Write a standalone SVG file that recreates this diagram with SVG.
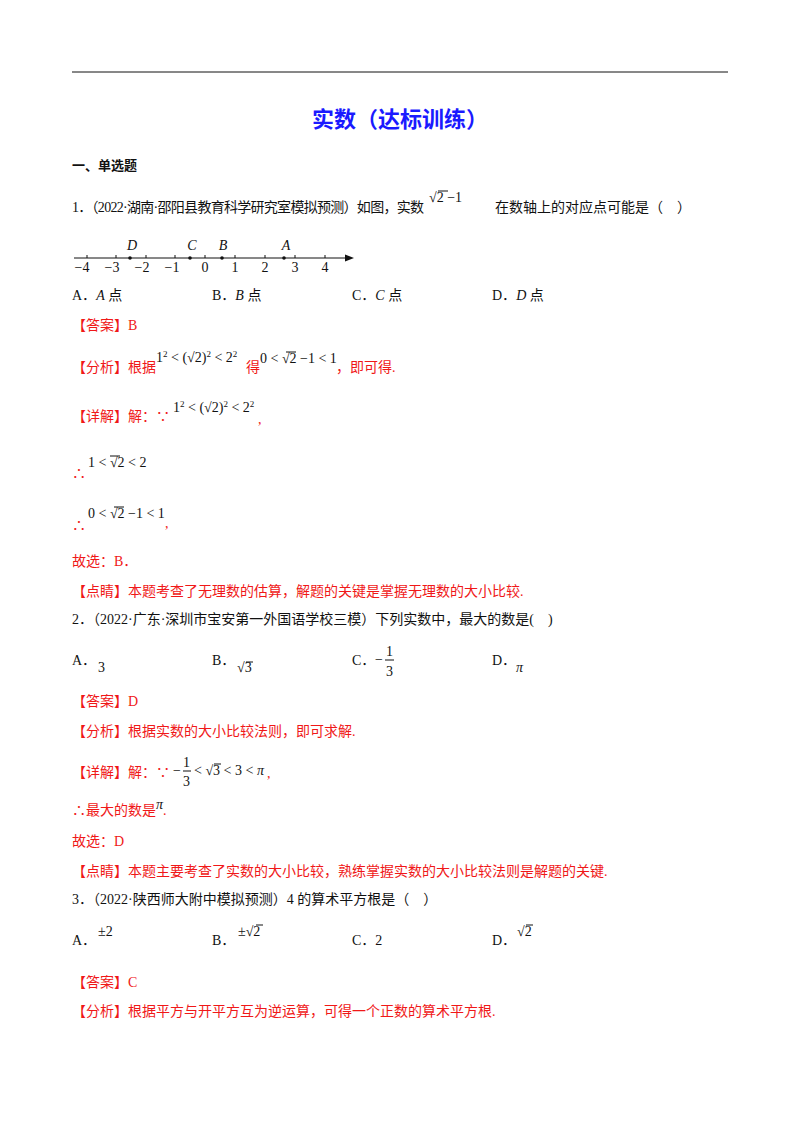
<svg xmlns="http://www.w3.org/2000/svg" width="800" height="1132" viewBox="0 0 800 1132">
<style>
text{font-family:"Liberation Serif","Noto Sans CJK SC",serif;font-size:14px;fill:#111}
.r{fill:#f01818}
.m{font-family:"Liberation Serif",serif;font-size:14px}
.i{font-style:italic}
.t{font-family:"Noto Sans CJK SC",sans-serif;font-size:22px;font-weight:bold;fill:#1a1aff}
.h{font-weight:bold;font-size:13px}
.s{font-size:9px}
line{stroke:#111;stroke-width:1}
</style>
<rect width="800" height="1132" fill="#fff"/>
<line x1="72" y1="72" x2="728" y2="72" stroke-width="1.5"/>
<text class="t" x="400" y="127" text-anchor="middle">实数（达标训练）</text>
<text class="h" x="72" y="170">一、单选题</text>

<text x="72" y="212" textLength="352" lengthAdjust="spacing">1．（2022·湖南·邵阳县教育科学研究室模拟预测）如图，实数</text>
<text class="m" x="429" y="202">√2 −1</text><line x1="438" y1="191" x2="448" y2="191"/>
<text x="495" y="212">在数轴上的对应点可能是（　）</text>

<g id="axis">
<line x1="74" y1="258" x2="348" y2="258"/>
<polygon points="354,258 345,254.5 345,261.5" fill="#111"/>
<g stroke="#111">
<line x1="87" y1="255" x2="87" y2="258"/><line x1="116" y1="255" x2="116" y2="258"/><line x1="146" y1="255" x2="146" y2="258"/><line x1="175" y1="255" x2="175" y2="258"/><line x1="205" y1="255" x2="205" y2="258"/><line x1="235" y1="255" x2="235" y2="258"/><line x1="265" y1="255" x2="265" y2="258"/><line x1="295" y1="255" x2="295" y2="258"/><line x1="325" y1="255" x2="325" y2="258"/>
</g>
<circle cx="130" cy="258" r="1.8" fill="#111"/><circle cx="190" cy="258" r="1.8" fill="#111"/><circle cx="222" cy="258" r="1.8" fill="#111"/><circle cx="284" cy="258" r="1.8" fill="#111"/>
<g class="m" text-anchor="middle">
<text x="82" y="272">−4</text><text x="112" y="272">−3</text><text x="142" y="272">−2</text><text x="172" y="272">−1</text><text x="205" y="272">0</text><text x="235" y="272">1</text><text x="265" y="272">2</text><text x="295" y="272">3</text><text x="325" y="272">4</text>
<text class="i" x="132" y="250">D</text><text class="i" x="192" y="250">C</text><text class="i" x="223" y="250">B</text><text class="i" x="286" y="250">A</text>
</g>
</g>

<text x="72" y="300">A．<tspan class="i">A</tspan> 点</text>
<text x="212" y="300">B．<tspan class="i">B</tspan> 点</text>
<text x="352" y="300">C．<tspan class="i">C</tspan> 点</text>
<text x="492" y="300">D．<tspan class="i">D</tspan> 点</text>

<text class="r" x="72" y="330">【答案】B</text>
<text class="r" x="72" y="372">【分析】根据</text>
<text class="m" x="156" y="362">1<tspan class="s" dy="-5">2</tspan><tspan dy="5"> &lt; (√2)</tspan><tspan class="s" dy="-5">2</tspan><tspan dy="5"> &lt; 2</tspan><tspan class="s" dy="-5">2</tspan></text>
<text class="r" x="246" y="372">得</text>
<text class="m" x="260" y="363">0 &lt; √2 −1 &lt; 1</text><line x1="286" y1="352" x2="296" y2="352"/>
<text class="r" x="336" y="372">，即可得.</text>

<text class="r" x="72" y="421">【详解】解：∵</text>
<text class="m" x="173" y="412">1<tspan class="s" dy="-5">2</tspan><tspan dy="5"> &lt; (√2)</tspan><tspan class="s" dy="-5">2</tspan><tspan dy="5"> &lt; 2</tspan><tspan class="s" dy="-5">2</tspan></text>
<text class="r" x="258" y="424">,</text>
<text class="r" x="72" y="478">∴</text>
<text class="m" x="88" y="467">1 &lt; √2 &lt; 2</text><line x1="110" y1="456" x2="120" y2="456"/>
<text class="r" x="72" y="530">∴</text>
<text class="m" x="88" y="518">0 &lt; √2 −1 &lt; 1</text><line x1="114" y1="507" x2="124" y2="507"/>
<text class="r" x="165" y="528">,</text>
<text class="r" x="72" y="566">故选：B．</text>
<text class="r" x="72" y="596">【点睛】本题考查了无理数的估算，解题的关键是掌握无理数的大小比较.</text>

<text x="72" y="624">2．（2022·广东·深圳市宝安第一外国语学校三模）下列实数中，最大的数是(　)</text>
<text x="72" y="665">A．</text><text class="m" x="98" y="672">3</text>
<text x="212" y="665">B．</text><text class="m" x="237" y="672">√3</text><line x1="246" y1="662" x2="253" y2="662"/>
<text x="352" y="665">C．</text><text class="m" x="375" y="664">−</text><line x1="385" y1="660" x2="394" y2="660"/><text class="m" x="386" y="656">1</text><text class="m" x="386" y="676">3</text>
<text x="492" y="665">D．</text><text class="m i" x="516" y="672">π</text>

<text class="r" x="72" y="706">【答案】D</text>
<text class="r" x="72" y="736">【分析】根据实数的大小比较法则，即可求解.</text>
<text class="r" x="72" y="777">【详解】解：∵</text>
<text class="m" x="173" y="775">−</text><line x1="183" y1="771" x2="191" y2="771"/><text class="m" x="183" y="767" font-size="12">1</text><text class="m" x="183" y="786" font-size="12">3</text>
<text class="m" x="194" y="775">&lt; √3 &lt; 3 &lt; <tspan class="i">π</tspan></text><line x1="214" y1="764" x2="221" y2="764"/>
<text class="r" x="267" y="778">,</text>
<text class="r" x="72" y="815">∴最大的数是<tspan class="m i" fill="#111" dy="-6">π</tspan><tspan dy="6">.</tspan></text>
<text class="r" x="72" y="846">故选：D</text>
<text class="r" x="72" y="876">【点睛】本题主要考查了实数的大小比较，熟练掌握实数的大小比较法则是解题的关键.</text>

<text x="72" y="904">3．（2022·陕西师大附中模拟预测）4 的算术平方根是（　）</text>
<text x="72" y="945">A．</text><text class="m" x="98" y="936">±2</text>
<text x="212" y="945">B．</text><text class="m" x="238" y="936">±√2</text><line x1="256" y1="925" x2="263" y2="925"/>
<text x="352" y="945">C．2</text>
<text x="492" y="945">D．</text><text class="m" x="517" y="936">√2</text><line x1="526" y1="925" x2="533" y2="925"/>
<text class="r" x="72" y="987">【答案】C</text>
<text class="r" x="72" y="1016">【分析】根据平方与开平方互为逆运算，可得一个正数的算术平方根.</text>
</svg>
